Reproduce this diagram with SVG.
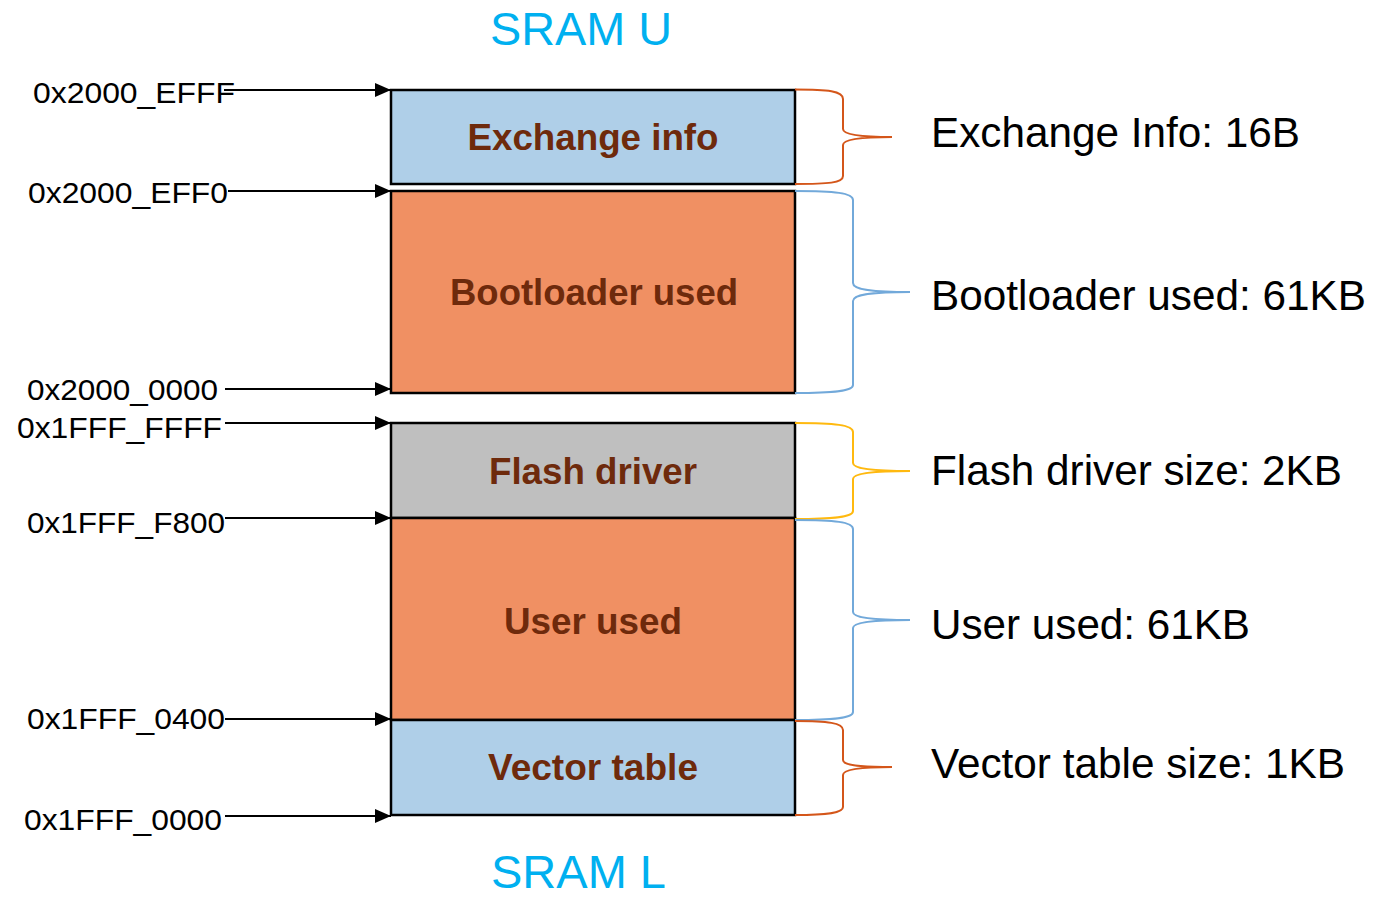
<svg xmlns="http://www.w3.org/2000/svg" width="1374" height="897" viewBox="0 0 1374 897">
<style>
  .box { stroke: #000; stroke-width: 2.5; }
  .blue { fill: #AFCFE8; }
  .orange { fill: #F09063; }
  .gray { fill: #BFBFBF; }
  .blabel { font-family: "Liberation Sans", Arial, sans-serif; font-weight: bold; font-size: 36px; fill: #6E2A0C; text-anchor: middle; }
  .addr { font-family: "Liberation Sans", Arial, sans-serif; font-size: 30px; fill: #000; }
  .size { font-family: "Liberation Sans", Arial, sans-serif; font-size: 42px; fill: #000; }
  .title { font-family: "Liberation Sans", Arial, sans-serif; font-size: 46px; fill: #00B0F0; }
  .arrow { stroke: #000; stroke-width: 2; fill: none; marker-end: url(#ah); }
  .brace { fill: none; stroke-width: 2; }
  .b-or { stroke: #D4561A; }
  .b-bl { stroke: #72A9DA; }
  .b-ye { stroke: #FFB90F; }
</style>
<defs>
  <marker id="ah" markerUnits="userSpaceOnUse" markerWidth="16" markerHeight="14" refX="16" refY="7" orient="auto">
    <path d="M0,0 L16,7 L0,14 z" fill="#000"/>
  </marker>
</defs>
<rect width="1374" height="897" fill="#fff"/>

<text class="title" x="490" y="45" textLength="182" lengthAdjust="spacingAndGlyphs">SRAM U</text>
<text class="title" x="491" y="888" textLength="175" lengthAdjust="spacingAndGlyphs">SRAM L</text>

<g id="exchange-info">
  <rect class="box blue" x="391" y="90" width="404" height="94"/>
  <text class="blabel" x="593" y="150" textLength="251" lengthAdjust="spacingAndGlyphs">Exchange info</text>
</g>
<g id="bootloader-used">
  <rect class="box orange" x="391" y="191" width="404" height="202"/>
  <text class="blabel" x="594" y="305" textLength="288" lengthAdjust="spacingAndGlyphs">Bootloader used</text>
</g>
<g id="flash-driver">
  <rect class="box gray" x="391" y="423" width="404" height="95"/>
  <text class="blabel" x="593" y="484" textLength="208" lengthAdjust="spacingAndGlyphs">Flash driver</text>
</g>
<g id="user-used">
  <rect class="box orange" x="391" y="518" width="404" height="202"/>
  <text class="blabel" x="593" y="634" textLength="178" lengthAdjust="spacingAndGlyphs">User used</text>
</g>
<g id="vector-table">
  <rect class="box blue" x="391" y="720" width="404" height="95"/>
  <text class="blabel" x="593" y="780" textLength="210" lengthAdjust="spacingAndGlyphs">Vector table</text>
</g>

<g id="address-labels">
  <text class="addr" x="33" y="103" textLength="202" lengthAdjust="spacingAndGlyphs">0x2000_EFFF</text>
  <text class="addr" x="28" y="203" textLength="200" lengthAdjust="spacingAndGlyphs">0x2000_EFF0</text>
  <text class="addr" x="27" y="400" textLength="191" lengthAdjust="spacingAndGlyphs">0x2000_0000</text>
  <text class="addr" x="17" y="438" textLength="205" lengthAdjust="spacingAndGlyphs">0x1FFF_FFFF</text>
  <text class="addr" x="27" y="533" textLength="198" lengthAdjust="spacingAndGlyphs">0x1FFF_F800</text>
  <text class="addr" x="27" y="729" textLength="198" lengthAdjust="spacingAndGlyphs">0x1FFF_0400</text>
  <text class="addr" x="24" y="830" textLength="198" lengthAdjust="spacingAndGlyphs">0x1FFF_0000</text>
</g>

<g id="connectors">
  <line class="arrow" x1="224" y1="90" x2="391" y2="90"/>
  <line class="arrow" x1="228" y1="191" x2="391" y2="191"/>
  <line class="arrow" x1="225" y1="389" x2="391" y2="389"/>
  <line class="arrow" x1="225" y1="423" x2="391" y2="423"/>
  <line class="arrow" x1="225" y1="518" x2="391" y2="518"/>
  <line class="arrow" x1="225" y1="719" x2="391" y2="719"/>
  <line class="arrow" x1="225" y1="816" x2="391" y2="816"/>
</g>

<g id="braces">
  <path class="brace b-or" d="M795,89.5 C828,89.5 843,91 843,99 L843,129 C843,134 856,137 892,137 C856,137 843,140 843,145 L843,176 C843,183 828,184 795,184"/>
  <path class="brace b-bl" d="M795,191 C835,191 853,193 853,200 L853,283 C853,289 868,292 910,292 C868,292 853,295 853,301 L853,385 C853,391 835,393 795,393"/>
  <path class="brace b-ye" d="M795,423 C835,423 853,425 853,432 L853,463 C853,468 868,471 910,471 C868,471 853,474 853,479 L853,511 C853,517 835,519 795,519"/>
  <path class="brace b-bl" d="M795,520 C835,520 853,522 853,529 L853,612 C853,617 868,620 910,620 C868,620 853,623 853,628 L853,712 C853,718 835,720 795,720"/>
  <path class="brace b-or" d="M795,721 C828,721 843,723 843,730 L843,760 C843,765 856,767 892,767 C856,767 843,770 843,775 L843,807 C843,813 828,815 795,815"/>
</g>

<g id="size-labels">
  <text class="size" x="931" y="147" textLength="369" lengthAdjust="spacingAndGlyphs">Exchange Info: 16B</text>
  <text class="size" x="931" y="310" textLength="435" lengthAdjust="spacingAndGlyphs">Bootloader used: 61KB</text>
  <text class="size" x="931" y="485" textLength="411" lengthAdjust="spacingAndGlyphs">Flash driver size: 2KB</text>
  <text class="size" x="931" y="639" textLength="319" lengthAdjust="spacingAndGlyphs">User used: 61KB</text>
  <text class="size" x="931" y="778" textLength="414" lengthAdjust="spacingAndGlyphs">Vector table size: 1KB</text>
</g>
</svg>
